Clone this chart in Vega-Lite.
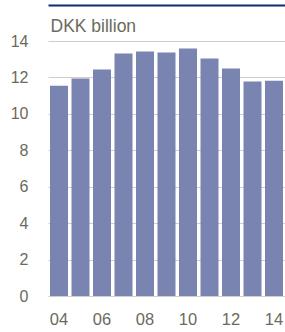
{
  "$schema": "https://vega.github.io/schema/vega-lite/v6.json",
  "width": 237,
  "height": 255,
  "autosize": "none",
  "padding": {"left": 48, "top": 41, "right": 0, "bottom": 36},
  "background": "white",
  "data": {
    "values": [
      {"year": "04", "value": 11.55},
      {"year": "05", "value": 11.94},
      {"year": "06", "value": 12.43},
      {"year": "07", "value": 13.31},
      {"year": "08", "value": 13.42},
      {"year": "09", "value": 13.37},
      {"year": "10", "value": 13.59},
      {"year": "11", "value": 13.04},
      {"year": "12", "value": 12.49},
      {"year": "13", "value": 11.77},
      {"year": "14", "value": 11.82}
    ]
  },
  "encoding": {
    "y": {
      "field": "value",
      "type": "quantitative",
      "scale": {"domain": [0, 14], "nice": false},
      "axis": {
        "values": [0, 2, 4, 6, 8, 10, 12, 14],
        "title": "DKK billion",
        "titleAngle": 0,
        "titleAlign": "left",
        "titleBaseline": "alphabetic",
        "titleX": 2,
        "titleY": -10,
        "titleFont": "Liberation Sans",
        "titleFontSize": 17.5,
        "titleFontWeight": "normal",
        "titleColor": "#6b6a5c",
        "labelFont": "Liberation Sans",
        "labelFontSize": 16,
        "labelColor": "#6b6a5c",
        "labelPadding": 20,
        "labelOverlap": false,
        "labelBound": false,
        "labelFlush": false,
        "ticks": false,
        "domain": false,
        "grid": true,
        "gridColor": "#cfcfc6",
        "gridWidth": 1
      }
    }
  },
  "layer": [
    {
      "mark": {"type": "bar", "color": "#7a84b0"},
      "encoding": {
        "x": {
          "field": "year",
          "type": "ordinal",
          "scale": {"paddingInner": 0.163, "paddingOuter": 0.093},
          "axis": {
            "orient": "bottom",
            "title": null,
            "values": ["04", "06", "08", "10", "12", "14"],
            "labelAngle": 0,
            "labelFont": "Liberation Sans",
            "labelFontSize": 16.5,
            "labelColor": "#6b6a5c",
            "labelPadding": 15,
            "labelOverlap": false,
            "ticks": false,
            "domain": false,
            "grid": false
          }
        }
      }
    },
    {
      "mark": {"type": "bar", "opacity": 0},
      "encoding": {
        "x": {
          "field": "year",
          "type": "ordinal",
          "axis": {
            "orient": "top",
            "title": null,
            "labels": false,
            "ticks": false,
            "grid": false,
            "domain": true,
            "domainColor": "#0d2d6e",
            "domainWidth": 2,
            "offset": 36
          }
        }
      }
    }
  ],
  "resolve": {"axis": {"x": "independent"}},
  "config": {"view": {"stroke": null}, "axis": {"labelOverlap": false}}
}
